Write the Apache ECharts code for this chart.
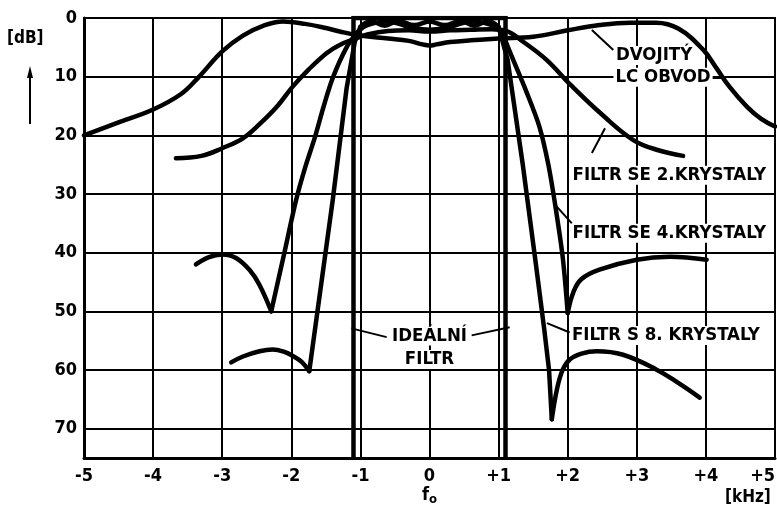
<!DOCTYPE html>
<html><head><meta charset="utf-8">
<script src="https://cdn.jsdelivr.net/npm/echarts@6/dist/echarts.min.js"></script>
<style>html,body{margin:0;padding:0;background:#fff}#c{width:777px;height:508px}</style>
</head><body><div id="c"></div>
<script>
// ---- data (x in kHz from f0, y attenuation in dB) ----
var xTicks = [-5,-4,-3,-2,-1,0,1,2,3,4,5];
var yTicks = [0,10,20,30,40,50,60,70];

var lcCircuit = [[-5,20],[-4.5,17.8],[-4,15.6],[-3.6,13],[-3.35,10.2],[-3,5.7],[-2.7,3],[-2.4,1.3],[-2.12,0.6],[-1.8,1.0],[-1.5,1.7],[-1.3,2.3],[-1,3.0],[-0.6,3.5],[-0.3,3.9],[-0.1,4.5],[0,4.7],[0.1,4.5],[0.3,4.1],[0.6,3.8],[1,3.5],[1.5,3.2],[2,2.1],[2.46,1.2],[2.9,0.8],[3.28,0.8],[3.6,1.8],[3.96,5.4],[4.15,8.5],[4.34,11.7],[4.6,15.2],[4.8,17.2],[5,18.5]];

var twoCrystal = [[-3.67,23.9],[-3.3,23.5],[-3.0,22.2],[-2.7,20.5],[-2.46,18.1],[-2.2,15],[-1.98,11.7],[-1.75,8.8],[-1.49,6.0],[-1.3,4.6],[-1.11,3.7],[-0.9,2.8],[-0.6,2.2],[-0.3,2.1],[0,2.3],[0.3,2.1],[0.6,2.0],[0.9,1.9],[1.11,2.2],[1.35,4.0],[1.69,7.1],[2.05,11.5],[2.5,16.5],[2.95,20.8],[3.3,22.5],[3.67,23.5]];

var fourLobeL  = [[-3.38,42],[-3.2,40.8],[-3,40.3],[-2.8,40.9],[-2.6,43],[-2.46,45.5],[-2.29,50]];
var fourSkirtL = [[-2.29,50],[-2.1,40],[-1.93,31],[-1.8,25.5],[-1.66,20.4],[-1.53,15],[-1.4,10.2],[-1.2,5],[-1.05,2.5]];
var fourPass   = [[-1.05,2.5],[-0.9,1.2],[-0.6,0.6],[-0.3,1.5],[0,2.0],[0.3,1.5],[0.6,0.6],[0.9,1.2],[1.05,2.5]];
var fourSkirtR = [[1.05,2.5],[1.12,4.5],[1.21,7.1],[1.4,12.5],[1.59,18.5],[1.72,25],[1.83,32.7],[1.93,41],[2.0,50.3]];
var fourLobeR  = [[2.0,50.3],[2.08,46.8],[2.2,44.5],[2.46,42.9],[3.0,41.2],[3.48,40.7],[4.01,41.2]];

var eightLobeL  = [[-2.87,58.7],[-2.7,57.7],[-2.46,56.8],[-2.27,56.5],[-2.1,56.9],[-1.98,57.6],[-1.85,58.6],[-1.74,60.2]];
var eightSkirtL = [[-1.74,60.2],[-1.4,31],[-1.2,12],[-1.08,4],[-1.0,1.5]];
var eightPass   = [[-1.0,1.5],[-0.85,0.5],[-0.65,1.3],[-0.45,0.5],[-0.22,1.2],[0,0.6],[0.22,1.2],[0.45,0.5],[0.65,1.3],[0.85,0.5],[1.0,1.5]];
var eightSkirtR = [[1.0,1.5],[1.13,7.1],[1.35,25],[1.54,42],[1.66,53],[1.73,60],[1.77,68.4]];
var eightLobeR  = [[1.77,68.4],[1.85,63],[1.93,59.9],[2.03,58.2],[2.2,57.2],[2.42,56.8],[2.8,57.4],[3.28,59.9],[3.6,62.2],[3.91,64.7]];

var idealFilter = [[-1.1,75],[-1.1,0],[1.1,0],[1.1,75]];

var labelNames = ['DVOJITÝ','LC OBVOD','FILTR SE 2.KRYSTALY','FILTR SE 4.KRYSTALY','FILTR S 8. KRYSTALY','IDEÁLNÍ','FILTR'];
var labelPos   = [[3.25,6.4],[3.38,10.1],[3.47,26.8],[3.47,36.7],[3.42,54.1],[0,54.2],[0,58.2]];
var leaders = [
  [[2.66,5.46],[2.35,2.05]],
  [[4.08,10.2],[4.24,10.2]],
  [[2.35,23.0],[2.54,18.8]],
  [[2.06,35.0],[1.8,31.6]],
  [[2.03,53.6],[1.70,52.0]],
  [[-0.62,54.4],[-1.13,52.9]],
  [[0.61,54.1],[1.16,52.7]]
];

// ---- chart ----
var FONT = 'DejaVu Sans Condensed';
var chart = echarts.init(document.getElementById('c'), null, {renderer:'canvas'});
function curve(data, smooth, w){
  return {type:'line', data:data, smooth:smooth, symbol:'none', silent:true,
    lineStyle:{color:'#000', width:w||4.5, cap:'round', join:'round'}, z:3};
}
var series = [
  curve(lcCircuit, 0.4),
  curve(twoCrystal, 0.4),
  curve(fourLobeL, 0.4), curve(fourSkirtL, 0.3), curve(fourPass, 0.4), curve(fourSkirtR, 0.3), curve(fourLobeR, 0.4),
  curve(eightLobeL, 0.4), curve(eightSkirtL, false), curve(eightPass, 0.4), curve(eightSkirtR, false), curve(eightLobeR, 0.4),
  {type:'line', data:idealFilter, symbol:'none', silent:true, lineStyle:{color:'#000', width:4.5, join:'miter'}, z:3},
  {type:'lines', coordinateSystem:'cartesian2d', silent:true, z:4,
    lineStyle:{color:'#000', width:2, opacity:1},
    data: leaders.map(function(c){return {coords:c};})},
  {type:'scatter', symbolSize:0, silent:true, z:5, itemStyle:{opacity:1},
    data: labelNames.map(function(n,i){return {name:n, value:labelPos[i]};}),
    label:{show:true, position:'inside', formatter:'{b}', color:'#000', opacity:1, fontFamily:FONT, fontWeight:'bold', fontSize:18.5,
      backgroundColor:'#fff', padding:[0,2]}}
];
chart.setOption({
  animation:false,
  backgroundColor:'#fff',
  grid:{left:84, right:2, top:18, bottom:50, containLabel:false, outerBoundsMode:'none',
    show:true, borderColor:'#000', borderWidth:2, backgroundColor:'transparent'},
  xAxis:{type:'value', min:-5, max:5, interval:1,
    axisLine:{show:true, onZero:false, lineStyle:{color:'#000', width:3}},
    axisTick:{show:false},
    splitLine:{show:true, lineStyle:{color:'#000', width:2}},
    axisLabel:{color:'#000', fontFamily:FONT, fontWeight:'bold', fontSize:18, margin:9, alignMaxLabel:'right',
      formatter:function(v){ return v>0 ? '+'+v : (v<0 ? '-'+Math.abs(v) : '0'); }}},
  yAxis:{type:'value', inverse:true, min:0, max:75, interval:10,
    axisLine:{show:true, onZero:false, lineStyle:{color:'#000', width:3}},
    axisTick:{show:false},
    splitLine:{show:true, lineStyle:{color:'#000', width:2}},
    axisLabel:{color:'#000', fontFamily:FONT, fontWeight:'bold', fontSize:18, margin:7, showMaxLabel:false,
      formatter:function(v){ return yTicks.indexOf(v)>=0 ? String(v) : ''; }}},
  graphic:[
    {type:'text', left:7, top:30, style:{text:'[dB]', fill:'#000', font:'bold 17px "'+FONT+'"'}},
    {type:'line', shape:{x1:30, y1:124, x2:30, y2:74}, style:{stroke:'#000', lineWidth:2}},
    {type:'polygon', shape:{points:[[27,78],[33,78],[30,66]]}, style:{fill:'#000'}},
    {type:'text', left:422, top:486, style:{text:'{a|f}{b|o}', fill:'#000',
      rich:{a:{font:'bold 18px "'+FONT+'"', fill:'#000'}, b:{font:'bold 13px "'+FONT+'"', fill:'#000', padding:[9,0,0,0]}}}},
    {type:'text', left:725, top:489, style:{text:'[kHz]', fill:'#000', font:'bold 17px "'+FONT+'"'}}
  ],
  series:series
});
</script></body></html>
